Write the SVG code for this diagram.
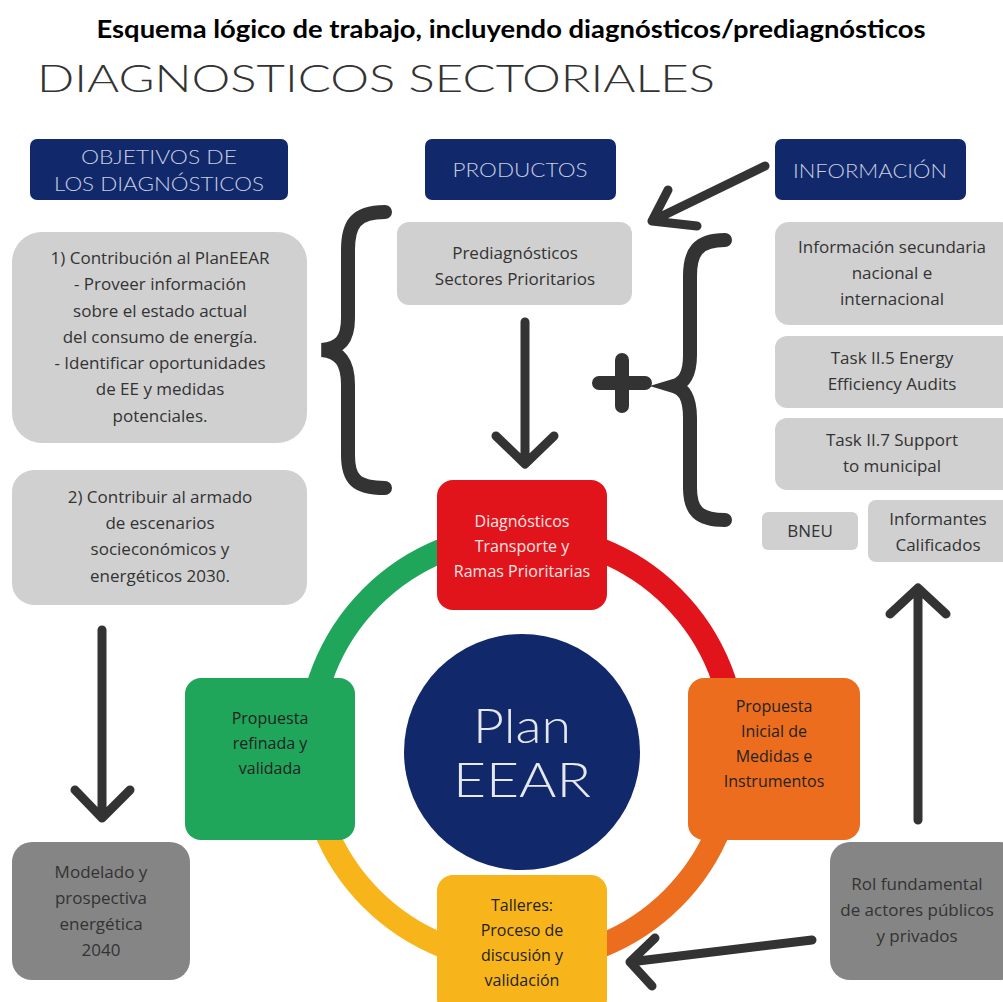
<svg xmlns="http://www.w3.org/2000/svg" width="1003" height="1002" viewBox="0 0 1003 1002">
<style>
.hdr{fill:#11296b}
.hdrt{font-family:Lato,"Open Sans",sans-serif;font-weight:300;font-size:19px;fill:#c9cee0;text-anchor:middle}
.gbox{fill:#d0d0d0}
.dbox{fill:#858585}
.t{font-family:"Open Sans","Liberation Sans",sans-serif;font-size:17px;fill:#333;text-anchor:middle}
.tw{font-family:"Open Sans","Liberation Sans",sans-serif;font-size:16px;fill:#f3e6e6;text-anchor:middle}
.tk{font-family:"Open Sans","Liberation Sans",sans-serif;font-size:16px;fill:#222;text-anchor:middle}
.pl{font-family:Lato,Inter,sans-serif;font-weight:300;font-size:47px;fill:#e6e8f0;text-anchor:middle}
.con{fill:none;stroke:#333;stroke-width:9;stroke-linecap:round;stroke-linejoin:round}
.brace{fill:none;stroke:#333;stroke-width:14;stroke-linecap:round}
</style>
<rect width="1003" height="1002" fill="#fff"/>
<text x="511" y="38" font-family="Lato,'Open Sans',sans-serif" font-weight="700" font-size="24" fill="#000" text-anchor="middle" textLength="829" lengthAdjust="spacingAndGlyphs">Esquema lógico de trabajo, incluyendo diagnósticos/prediagnósticos</text>
<text x="37" y="92" font-family="Lato,Inter,sans-serif" font-weight="300" font-size="37" fill="#333" textLength="678" lengthAdjust="spacingAndGlyphs">DIAGNOSTICOS SECTORIALES</text>

<g id="ring">
<path d="M522 535 A213 213 0 0 1 735 748" fill="none" stroke="#e2141b" stroke-width="24"/>
<path d="M735 748 A213 213 0 0 1 522 961" fill="none" stroke="#ec6d1e" stroke-width="24"/>
<path d="M522 961 A213 213 0 0 1 309 748" fill="none" stroke="#f8b51b" stroke-width="24"/>
<path d="M309 748 A213 213 0 0 1 522 535" fill="none" stroke="#1fa65a" stroke-width="24"/>
</g>

<g id="connectors">
<path class="con" d="M765 166 L652 221 M668 190 L652 221 L697 226"/>
<path class="con" d="M525 322 L525 462 M496 436 L525 464 L554 436"/>
<path class="con" d="M102 630 L102 818 M75 790 L102 818 L130 790"/>
<path class="con" d="M918 820 L918 590 M890 614 L918 588 L946 614"/>
<path class="con" d="M812 940 L630 962 M655 938 L630 962 L652 986"/>
<path class="brace" d="M385 212 C355 212 348 225 348 250 L348 318 C348 340 340 348 322 350 C340 352 348 362 348 385 L348 455 C348 478 355 488 385 488"/>
<path class="brace" d="M725 240 C698 240 690 252 690 276 L690 355 C690 375 684 383 674 386 C684 389 690 397 690 418 L690 488 C690 510 698 520 725 520"/>
<path class="brace" d="M599 383 L645 383 M622 360 L622 406"/>
</g>

<g id="objetivos">
<rect class="hdr" x="30" y="139" width="258" height="61" rx="7"/>
<text class="hdrt" x="159" y="164" textLength="156" lengthAdjust="spacingAndGlyphs">OBJETIVOS DE</text>
<text class="hdrt" x="159" y="191" textLength="210" lengthAdjust="spacingAndGlyphs">LOS DIAGNÓSTICOS</text>
</g>
<g id="productos">
<rect class="hdr" x="425" y="139" width="191" height="61" rx="7"/>
<text class="hdrt" x="520" y="177" textLength="135" lengthAdjust="spacingAndGlyphs">PRODUCTOS</text>
</g>
<g id="informacion">
<rect class="hdr" x="775" y="139" width="191" height="61" rx="7"/>
<text class="hdrt" x="870" y="178" textLength="154" lengthAdjust="spacingAndGlyphs">INFORMACIÓN</text>
</g>

<g id="obj1">
<rect class="gbox" x="12" y="232" width="295" height="211" rx="30"/>
<text class="t" x="160" y="264">1) Contribución al PlanEEAR</text>
<text class="t" x="160" y="290">- Proveer información</text>
<text class="t" x="160" y="317">sobre el estado actual</text>
<text class="t" x="160" y="343">del consumo de energía.</text>
<text class="t" x="160" y="369">- Identificar oportunidades</text>
<text class="t" x="160" y="395">de EE y medidas</text>
<text class="t" x="160" y="422">potenciales.</text>
</g>
<g id="obj2">
<rect class="gbox" x="12" y="470" width="295" height="135" rx="22"/>
<text class="t" x="160" y="503">2) Contribuir al armado</text>
<text class="t" x="160" y="529">de escenarios</text>
<text class="t" x="160" y="555">socieconómicos y</text>
<text class="t" x="160" y="582">energéticos 2030.</text>
</g>

<g id="prediag">
<rect class="gbox" x="397" y="222" width="235" height="83" rx="12"/>
<text class="t" x="515" y="259">Prediagnósticos</text>
<text class="t" x="515" y="285">Sectores Prioritarios</text>
</g>

<g id="info1">
<rect class="gbox" x="775" y="222" width="240" height="103" rx="14"/>
<text class="t" x="892" y="253">Información secundaria</text>
<text class="t" x="892" y="279">nacional e</text>
<text class="t" x="892" y="305">internacional</text>
</g>
<g id="info2">
<rect class="gbox" x="775" y="336" width="240" height="72" rx="12"/>
<text class="t" x="892" y="364">Task II.5 Energy</text>
<text class="t" x="892" y="390">Efficiency Audits</text>
</g>
<g id="info3">
<rect class="gbox" x="775" y="418" width="240" height="72" rx="12"/>
<text class="t" x="892" y="446">Task II.7 Support</text>
<text class="t" x="892" y="472">to municipal</text>
</g>
<g id="bneu">
<rect class="gbox" x="762" y="512" width="96" height="38" rx="6"/>
<text class="t" x="810" y="537">BNEU</text>
</g>
<g id="informantes">
<rect class="gbox" x="868" y="500" width="145" height="62" rx="8"/>
<text class="t" x="938" y="525">Informantes</text>
<text class="t" x="938" y="551">Calificados</text>
</g>

<g id="plan">
<circle cx="522" cy="752" r="118" fill="#11296b"/>
<text class="pl" x="522" y="743" textLength="98" lengthAdjust="spacingAndGlyphs">Plan</text>
<text class="pl" x="522" y="797" textLength="138" lengthAdjust="spacingAndGlyphs">EEAR</text>
</g>

<g id="diagnosticos">
<rect x="437" y="480" width="170" height="130" rx="16" fill="#e2141b"/>
<text class="tw" x="522" y="527">Diagnósticos</text>
<text class="tw" x="522" y="552">Transporte y</text>
<text class="tw" x="522" y="577">Ramas Prioritarias</text>
</g>
<g id="propuesta-inicial">
<rect x="688" y="678" width="172" height="162" rx="16" fill="#ec6d1e"/>
<text class="tk" x="774" y="712">Propuesta</text>
<text class="tk" x="774" y="737">Inicial de</text>
<text class="tk" x="774" y="762">Medidas e</text>
<text class="tk" x="774" y="787">Instrumentos</text>
</g>
<g id="propuesta-refinada">
<rect x="185" y="678" width="170" height="162" rx="16" fill="#1fa65a"/>
<text class="tk" x="270" y="724">Propuesta</text>
<text class="tk" x="270" y="749">refinada y</text>
<text class="tk" x="270" y="774">validada</text>
</g>
<g id="talleres">
<rect x="437" y="875" width="170" height="140" rx="16" fill="#f8b51b"/>
<text class="tk" x="522" y="911">Talleres:</text>
<text class="tk" x="522" y="936">Proceso de</text>
<text class="tk" x="522" y="961">discusión y</text>
<text class="tk" x="522" y="986">validación</text>
</g>

<g id="modelado">
<rect class="dbox" x="12" y="842" width="178" height="138" rx="20"/>
<text class="t" x="101" y="878">Modelado y</text>
<text class="t" x="101" y="904">prospectiva</text>
<text class="t" x="101" y="930">energética</text>
<text class="t" x="101" y="956">2040</text>
</g>
<g id="rol">
<rect class="dbox" x="830" y="842" width="190" height="138" rx="20"/>
<text class="t" x="917" y="890">Rol fundamental</text>
<text class="t" x="917" y="916">de actores públicos</text>
<text class="t" x="917" y="942">y privados</text>
</g>
</svg>
